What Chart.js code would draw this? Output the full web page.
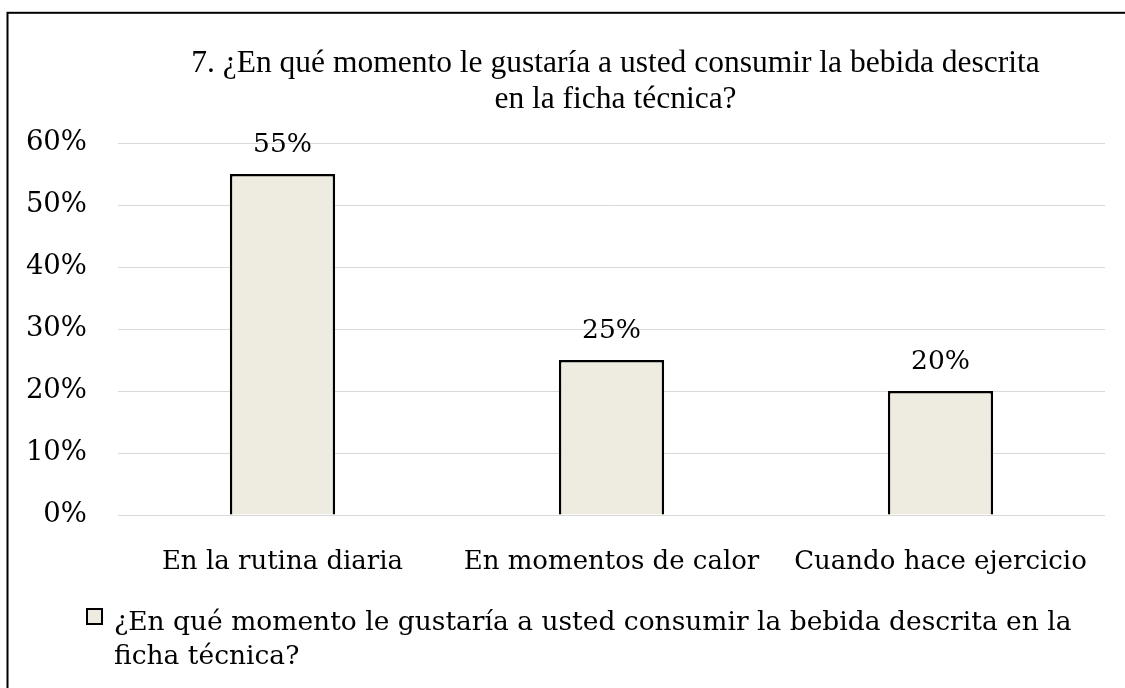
<!DOCTYPE html>
<html>
<head>
<meta charset="utf-8">
<script src="https://cdn.jsdelivr.net/npm/chart.js@4"></script>
<style>
  body { margin: 0; background: #fff; }
  #wrap { width: 1125px; height: 688px; position: relative; }
</style>
</head>
<body>
<div id="wrap"><canvas id="momentChart"></canvas></div>
<script>
// chart data
const categories = ['En la rutina diaria', 'En momentos de calor', 'Cuando hace ejercicio'];
const shares = [0.55, 0.25, 0.20];
const seriesName = '¿En qué momento le gustaría a usted consumir la bebida descrita en la ficha técnica?';
const titleLines = ['7. ¿En qué momento le gustaría a usted consumir la bebida descrita', 'en la ficha técnica?'];
const yMax = 0.6;
const yStep = 0.1;

const barFill = '#EEECE1';

// frame, title, value labels and legend drawn on the canvas
const decorations = {
    id: 'decorations',
    beforeDraw(chart) {
        const ctx = chart.ctx;
        ctx.save();
        ctx.strokeStyle = '#000';
        ctx.lineWidth = 2;
        ctx.strokeRect(7.5, 12.8, 1300, 900);
        ctx.restore();
    },
    afterDraw(chart) {
        const ctx = chart.ctx;
        const area = chart.chartArea;
        ctx.save();
        ctx.fillStyle = '#000';

        // title
        ctx.font = '31.5px "Liberation Serif"';
        ctx.textAlign = 'center';
        ctx.textBaseline = 'alphabetic';
        const cx = (area.left + area.right) / 2 + 4;
        titleLines.forEach((line, i) => ctx.fillText(line, cx, 72 + i * 36));

        // value labels above bars
        ctx.font = '26.5px "DejaVu Serif"';
        ctx.textBaseline = 'middle';
        const meta = chart.getDatasetMeta(0);
        meta.data.forEach((bar, i) => {
            ctx.fillText(Math.round(shares[i] * 100) + '%', bar.x, bar.y - 29);
        });

        // legend (wrapped)
        const ds = chart.data.datasets[0];
        ctx.fillStyle = ds.backgroundColor;
        ctx.fillRect(87, 609, 15, 15);
        ctx.strokeStyle = '#000';
        ctx.lineWidth = 2;
        ctx.strokeRect(87, 609, 15, 15);

        ctx.fillStyle = '#000';
        ctx.textAlign = 'left';
        ctx.textBaseline = 'alphabetic';
        ctx.font = '26.5px "DejaVu Serif"';
        const textX = 114;
        const maxW = 1100 - textX;
        const words = ds.label.split(' ');
        const lines = [];
        let cur = '';
        words.forEach(w => {
            const test = cur ? cur + ' ' + w : w;
            if (ctx.measureText(test).width > maxW && cur) {
                lines.push(cur);
                cur = w;
            } else {
                cur = test;
            }
        });
        lines.push(cur);
        lines.forEach((line, i) => ctx.fillText(line, textX, 630 + i * 34));
        ctx.restore();
    }
};

new Chart(document.getElementById('momentChart'), {
    type: 'bar',
    data: {
        labels: categories,
        datasets: [{
            label: seriesName,
            data: shares,
            backgroundColor: barFill,
            borderColor: '#000',
            borderWidth: 2.5,
            categoryPercentage: 1,
            barPercentage: 0.32
        }]
    },
    options: {
        responsive: true,
        maintainAspectRatio: false,
        animation: false,
        layout: {
            padding: { left: 0, right: 20, top: 143, bottom: 113 }
        },
        plugins: {
            legend: { display: false },
            title: { display: false },
            tooltip: { enabled: false }
        },
        scales: {
            x: {
                grid: { display: false },
                border: { display: false },
                ticks: {
                    color: '#000',
                    font: { family: 'DejaVu Serif', size: 26 },
                    padding: 24,
                    maxRotation: 0,
                    autoSkip: false
                },
                afterFit(scale) { scale.height = 60; }
            },
            y: {
                min: 0,
                max: yMax,
                grid: { color: '#D9D9D9', lineWidth: 1, drawTicks: false },
                border: { display: false },
                ticks: {
                    stepSize: yStep,
                    color: '#000',
                    font: { family: 'DejaVu Serif', size: 27.5 },
                    padding: 31,
                    callback: v => Math.round(v * 100) + '%'
                },
                afterFit(scale) { scale.width = 118; }
            }
        }
    },
    plugins: [decorations]
});
</script>
</body>
</html>
